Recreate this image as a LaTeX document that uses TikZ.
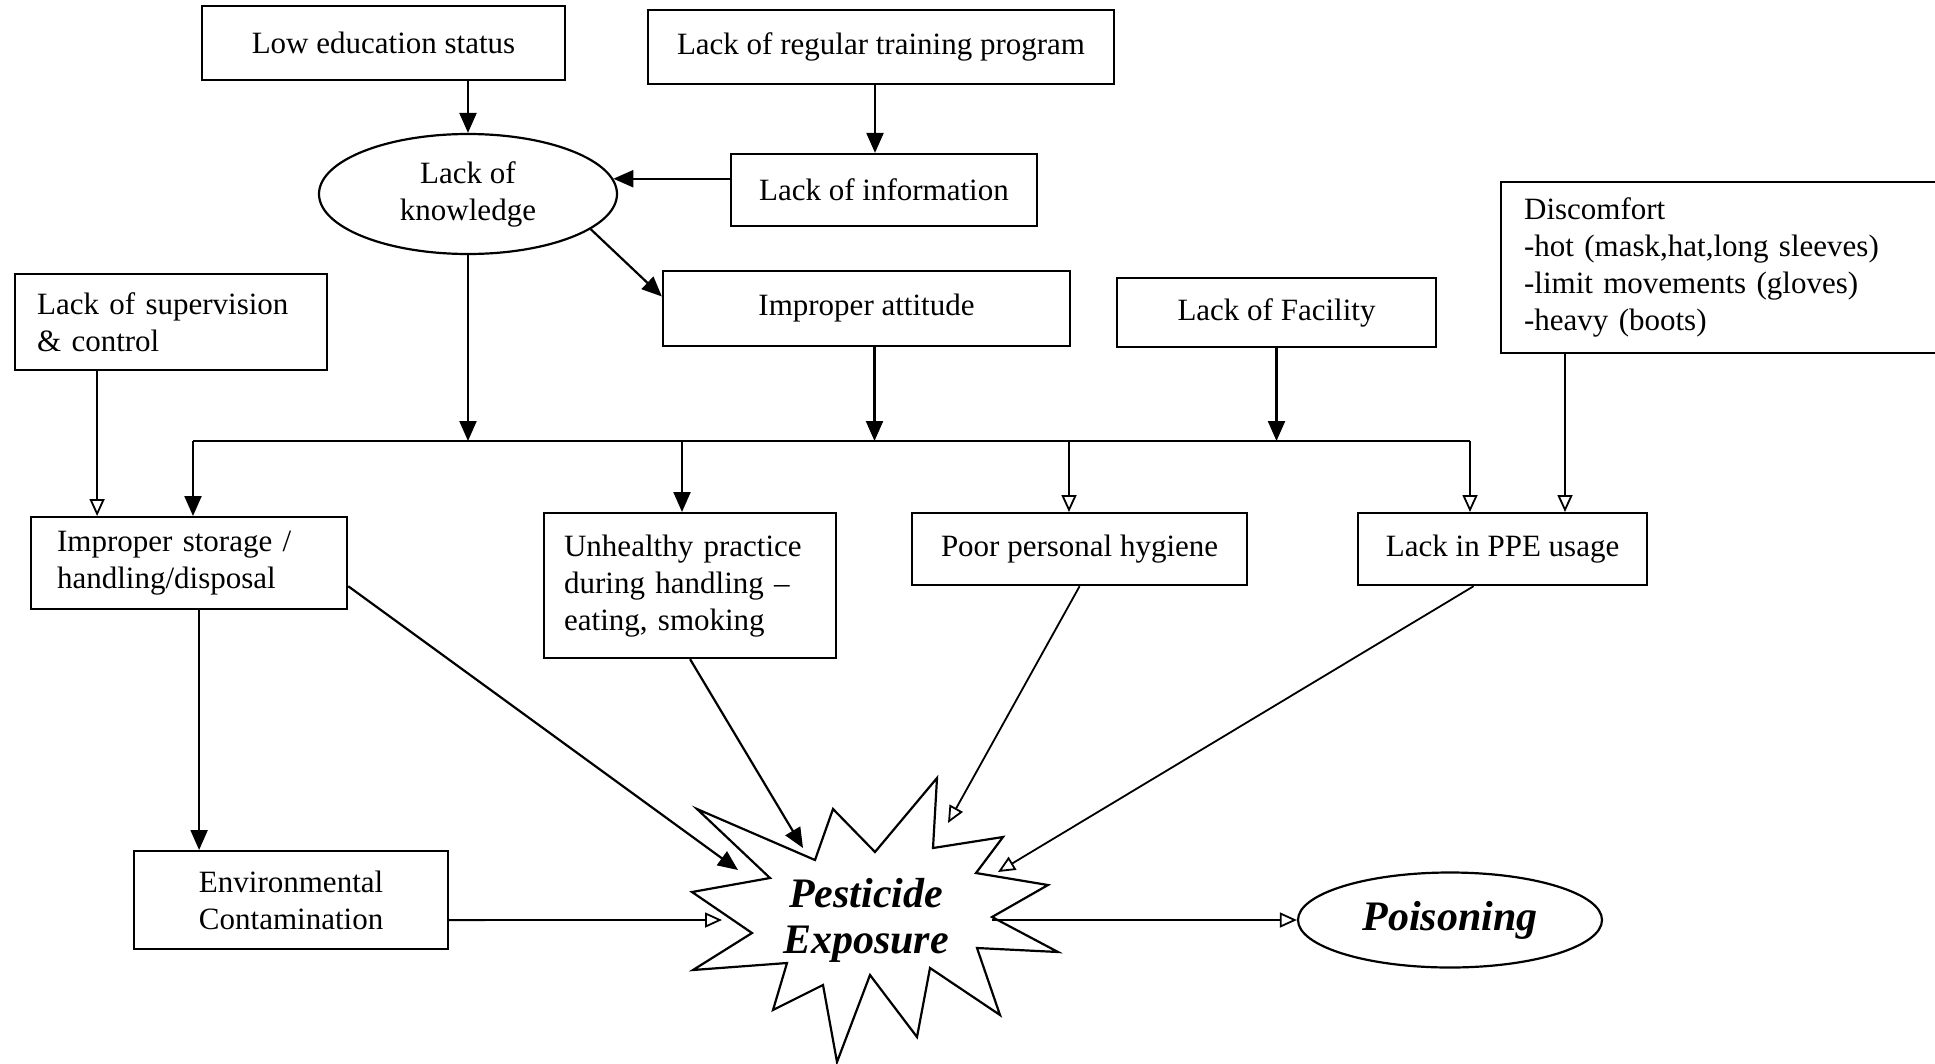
\documentclass[tikz,border=0pt]{standalone}
\usepackage{fontspec}
\setmainfont{Liberation Serif}
\usetikzlibrary{arrows.meta,calc,shapes.geometric}
\begin{document}
\begin{tikzpicture}[x=1pt,y=-1pt,
  every node/.style={font=\fontsize{31}{37}\selectfont},
  box/.style={draw, line width=2.2pt, inner sep=0pt, align=center, rectangle},
  lbox/.style={box, align=left, anchor=north west},
  oval/.style={draw, ellipse, line width=2.2pt, inner sep=0pt, align=center},
  big/.style={font=\fontsize{42}{46}\selectfont\bfseries\itshape},
  fa/.style={line width=2.2pt, -{Triangle[length=20pt,width=17pt]}},
  oa/.style={line width=1.8pt, -{Triangle[open,length=17pt,width=15pt,fill=white]}},
  bus/.style={line width=2.2pt},
  burst/.style={draw, line width=2.2pt, fill=white, line join=miter},
]
\path[use as bounding box] (0,0) rectangle (1935,1063);
\clip (0,0) rectangle (1935,1063);

% top row
\node[box, minimum width=363pt, minimum height=74pt] (edu) at (383.5,43) {Low education status};
\node[box, minimum width=466pt, minimum height=74pt] (train) at (881,47) {Lack of regular training program};
\node[box, minimum width=306pt, minimum height=72pt] (info) at (884,190) {Lack of information};
\node[oval, minimum width=298pt, minimum height=120pt] (know) at (468,194) {Lack of\\knowledge};
\node[box, minimum width=407pt, minimum height=75pt] (att) at (866.5,308.5) {Improper attitude};
\node[box, minimum width=319pt, minimum height=69pt] (fac) at (1276.5,312.5) {Lack of Facility};
\node[lbox, inner xsep=23pt, text width=454pt, minimum height=171pt] (disc) at (1500,181)
  {Discomfort\\-hot (mask,hat,long sleeves)\\-limit movements (gloves)\\-heavy (boots)};
\node[lbox, inner xsep=22pt, text width=268pt, minimum height=96pt] (sup) at (14,273)
  {Lack of supervision\\\& control};

% second row
\node[lbox, inner xsep=26pt, text width=264pt, minimum height=92pt] (storage) at (30,516)
  {Improper storage /\\handling/disposal};
\node[lbox, inner xsep=20pt, text width=252pt, minimum height=145pt] (unh) at (543,512)
  {Unhealthy practice\\during handling --\\eating, smoking};
\node[box, anchor=north west, minimum width=335pt, minimum height=72pt] (hyg) at (911,512) {Poor personal hygiene};
\node[box, anchor=north west, minimum width=289pt, minimum height=72pt] (ppe) at (1357,512) {Lack in PPE usage};
\node[box, anchor=north west, minimum width=314pt, minimum height=98pt] (env) at (133,850) {Environmental\\Contamination};

% starburst
\draw[burst] (697,809) -- (815,860) -- (833,809) -- (875,852) -- (937,778) -- (933,848)
  -- (1003,837) -- (976,873) -- (1048,885) -- (992,917) -- (1058,952) -- (977,948)
  -- (1000,1015) -- (930,968) -- (917,1037) -- (870,975) -- (837,1062) -- (823,985)
  -- (773,1010) -- (787,963) -- (693,970) -- (752,933) -- (692,892) -- (770,878) -- cycle;
\node[big, align=center] (exp) at (866,920) {Pesticide\\Exposure};
\node[oval, minimum width=304pt, minimum height=95pt, big] (poison) at (1450,920) {Poisoning};

% coordinates
\coordinate (b1) at (193,441);
\coordinate (b2) at (682,441);
\coordinate (b3) at (1069,441);
\coordinate (b4) at (1470,441);
\coordinate (tS) at (738,870);
\coordinate (tU) at (803,848);
\coordinate (tH) at (948,823);
\coordinate (tP) at (998,872);
\coordinate (tE) at (722,920);
\coordinate (sR) at (992,920);

% top connectors
\draw[fa] (edu.south -| know.north) -- (know.north);
\draw[fa] ([xshift=-9pt]train.south -| info.north) -- ([xshift=-9pt]info.north);
\draw[fa] (know.6 -| info.west) -- (know.6);
\draw[fa] (know.-16) -- ([yshift=12pt]att.west);

% into bus
\draw[bus] (b1) -- (b4);
\draw[fa] (know.south) -- (know.south |- b1);
\draw[fa] ([xshift=8pt]att.south) -- ([xshift=8pt]att.south |- b1);
\draw[fa] (fac.south) -- (fac.south |- b1);

% bus drops
\draw[fa] (b1) -- (b1 |- storage.north);
\draw[fa] (b2) -- (b2 |- unh.north);
\draw[oa] (b3) -- (b3 |- hyg.north);
\draw[oa] (b4) -- (b4 |- ppe.north);
\draw[oa] ([xshift=-74pt]sup.south) -- ([xshift=-74pt]sup.south |- storage.north);
\draw[oa] ([xshift=65pt]disc.south west) -- ([xshift=65pt]disc.south west |- ppe.north);

% lower connectors
\draw[fa] ([xshift=10pt]storage.south) -- ([xshift=10pt]storage.south |- env.north);
\draw[fa] ([yshift=24pt]storage.south east) -- (tS);
\draw[fa] (unh.south) -- (tU);
\draw[oa] (hyg.south) -- (tH);
\draw[oa] ([xshift=-29pt]ppe.south) -- (tP);
\draw[oa] ([yshift=-20pt]env.east) -- (tE);
\draw[oa] (sR) -- (poison.west);
\end{tikzpicture}
\end{document}
